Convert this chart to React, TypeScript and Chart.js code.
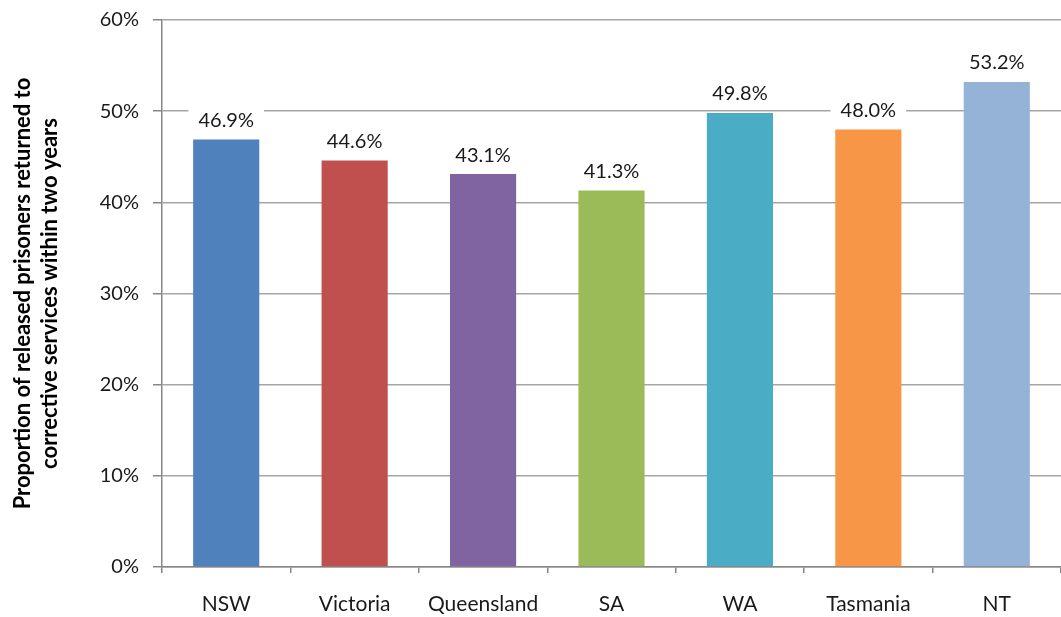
import React, { useEffect, useRef } from "react";
import { Chart, registerables } from "chart.js";

Chart.register(...registerables);

const categories = ["NSW", "Victoria", "Queensland", "SA", "WA", "Tasmania", "NT"];
const values = [46.9, 44.6, 43.1, 41.3, 49.8, 48.0, 53.2];
const barColors = ["#4f81bd", "#c0504d", "#8064a2", "#9bbb59", "#4bacc6", "#f79646", "#95b3d7"];
const yTitle = ["Proportion of released prisoners returned to", "corrective services within two years"];

const FONT = "Lato, 'Open Sans', sans-serif";

const valueLabels = {
  id: "valueLabels",
  afterDatasetsDraw(chart: any) {
    const ctx = chart.ctx;
    const meta = chart.getDatasetMeta(0);
    ctx.save();
    ctx.font = `20px ${FONT}`;
    ctx.textAlign = "center";
    ctx.textBaseline = "middle";
    meta.data.forEach((bar: any, i: number) => {
      const text = values[i].toFixed(1) + "%";
      const w = ctx.measureText(text).width;
      const cy = bar.y - 19;
      ctx.fillStyle = "#ffffff";
      ctx.fillRect(bar.x - w / 2 - 10, cy - 12, w + 20, 24);
      ctx.fillStyle = "#1a1a1a";
      ctx.fillText(text, bar.x, cy);
    });
    ctx.restore();
  },
};

export default function App() {
  const ref = useRef<HTMLCanvasElement | null>(null);
  useEffect(() => {
    if (!ref.current) return;
    const chart = new Chart(ref.current, {
      type: "bar",
      data: {
        labels: categories,
        datasets: [
          {
            data: values,
            backgroundColor: barColors,
            borderWidth: 0,
            barPercentage: 0.515,
            categoryPercentage: 1,
          },
        ],
      },
      options: {
        responsive: false,
        animation: false,
        devicePixelRatio: 1,
        layout: { padding: { top: 20, right: 0, left: 0, bottom: 0 } },
        plugins: {
          legend: { display: false },
          tooltip: { enabled: false },
          title: { display: false },
        },
        scales: {
          x: {
            offset: true,
            afterFit: (s: any) => {
              s.height = 50;
            },
            grid: {
              display: true,
              drawOnChartArea: false,
              drawTicks: true,
              tickLength: 6,
              color: "#868686",
              lineWidth: 1.5,
              offset: true,
            },
            border: { display: true, color: "#868686", width: 1.5 },
            ticks: {
              color: "#1a1a1a",
              font: { family: FONT, size: 21 },
              padding: 19,
              maxRotation: 0,
            },
          },
          y: {
            min: 0,
            max: 60,
            afterFit: (s: any) => {
              s.width = 162;
              s.paddingTop = 0;
              s.paddingBottom = 0;
            },
            grid: {
              color: "#a6a6a6",
              lineWidth: 1.5,
              drawTicks: true,
              tickLength: 9,
              tickColor: "#868686",
            },
            border: { display: true, color: "#868686", width: 1.5 },
            ticks: {
              stepSize: 10,
              color: "#1a1a1a",
              font: { family: FONT, size: 20 },
              padding: 14,
              callback: (v: any) => v + "%",
            },
            title: {
              display: true,
              text: yTitle,
              color: "#000000",
              font: { family: FONT, size: 22, weight: "bold", lineHeight: 1.23 },
              padding: { top: 9, bottom: 0 },
            },
          },
        },
      },
      plugins: [valueLabels],
    });
    return () => chart.destroy();
  }, []);
  return (
    <div style={{ position: "absolute", left: 0, top: 0, width: 1061, height: 617, background: "#fff" }}>
      <canvas ref={ref} width={1061} height={617} style={{ display: "block" }} />
    </div>
  );
}
